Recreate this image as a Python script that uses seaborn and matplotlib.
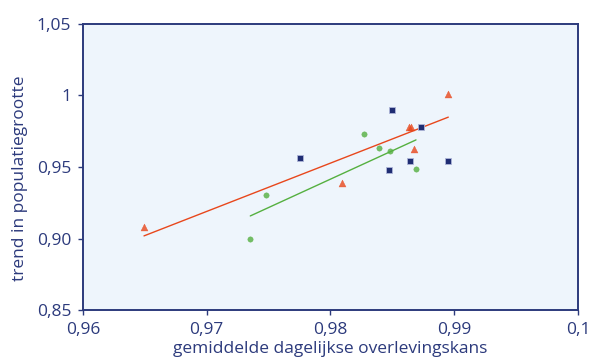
import matplotlib
matplotlib.use("Agg")
import matplotlib.pyplot as plt
import seaborn as sns
import pandas as pd

red_x = [0.96493, 0.98093, 0.98634, 0.98653, 0.98672, 0.98952]
red_y = [0.90825, 0.93902, 0.97818, 0.97818, 0.96238, 1.00084]
blue_x = [0.97754, 0.98499, 0.98731, 0.98640, 0.98473, 0.98952]
blue_y = [0.95608, 0.99007, 0.97818, 0.95441, 0.94811, 0.95441]
green_x = [0.97352, 0.97481, 0.98271, 0.98392, 0.98481, 0.98691]
green_y = [0.89944, 0.93021, 0.97308, 0.96308, 0.96098, 0.94881]

x_ticks = [0.96, 0.97, 0.98, 0.99, 1.0]
x_tick_labels = ["0,96", "0,97", "0,98", "0,99", "0,1"]
y_ticks = [0.85, 0.90, 0.95, 1.0, 1.05]
y_tick_labels = ["0,85", "0,90", "0,95", "1", "1,05"]

navy = "#2c3a7c"
red = "#e8471c"
green = "#55b040"
blue = "#1f2d73"

sns.set_style("white")
plt.rcParams["font.family"] = ["Open Sans", "DejaVu Sans"]

fig = plt.figure(figsize=(5.91, 3.63), dpi=100)
ax = fig.add_axes([0.1404, 0.146, 0.8376, 0.7879])
ax.set_facecolor("#eef5fc")

red_df = pd.DataFrame({"x": red_x, "y": red_y})
green_df = pd.DataFrame({"x": green_x, "y": green_y})
blue_df = pd.DataFrame({"x": blue_x, "y": blue_y})

sns.regplot(data=red_df, x="x", y="y", ax=ax, ci=None, truncate=True, marker="^",
            scatter_kws=dict(s=25, color=red, edgecolors=red, linewidths=0.3, zorder=3),
            line_kws=dict(color=red, lw=1.0, zorder=2))
sns.regplot(data=green_df, x="x", y="y", ax=ax, ci=None, truncate=True, marker="o",
            scatter_kws=dict(s=15, color=green, edgecolors=green, linewidths=0.3, zorder=3),
            line_kws=dict(color=green, lw=1.0, zorder=2))
sns.scatterplot(data=blue_df, x="x", y="y", ax=ax, marker="s", s=20, color=blue,
                edgecolor="#aeb6d8", linewidth=0.6, zorder=3)

ax.set_xlim(0.96, 1.0)
ax.set_ylim(0.85, 1.05)
ax.set_xticks(x_ticks)
ax.set_xticklabels(x_tick_labels)
ax.set_yticks(y_ticks)
ax.set_yticklabels(y_tick_labels)
ax.tick_params(axis="both", colors=navy, labelsize=12.5, length=3.5, width=1, direction="out",
               left=True, bottom=True, top=False, right=False, labelcolor=navy)
ax.tick_params(axis="y", pad=5)
ax.tick_params(axis="x", pad=5)
for s in ax.spines.values():
    s.set_color(navy)
    s.set_linewidth(1.4)
    s.set_visible(True)

ax.set_xlabel("gemiddelde dagelijkse overlevingskans", color=navy, fontsize=12.5)
ax.xaxis.set_label_coords(0.5, -0.11)
ax.xaxis.label.set_verticalalignment("top")
ax.set_ylabel("trend in populatiegrootte", color=navy, fontsize=12.5)
ax.yaxis.set_label_coords(-0.127, 0.46)
ax.yaxis.label.set_verticalalignment("center")

fig.savefig("out.png", dpi=100)
